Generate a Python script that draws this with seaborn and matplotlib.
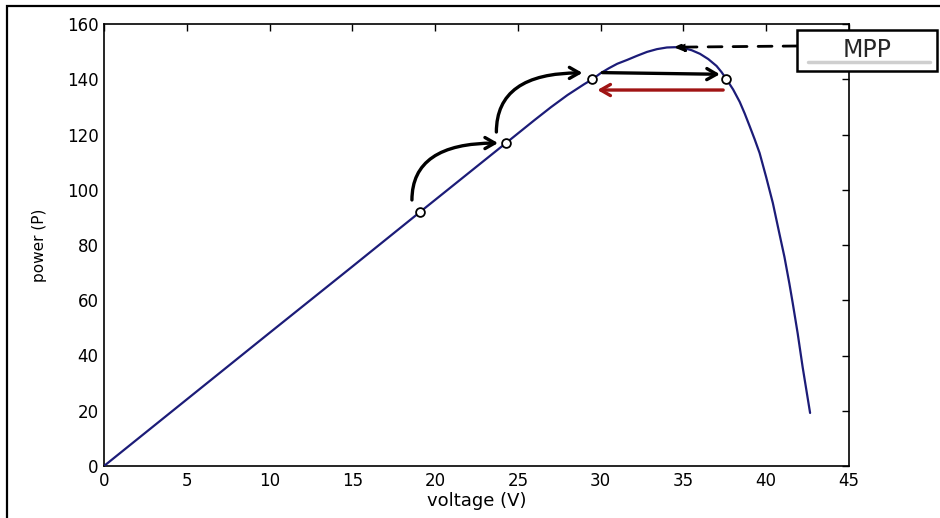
import matplotlib
matplotlib.use("Agg")
import matplotlib.pyplot as plt
from matplotlib.patches import FancyArrowPatch, Rectangle
from matplotlib.lines import Line2D
import seaborn as sns
import pandas as pd

# P-V characteristic of the PV panel
voltage = [0, 5, 10, 15, 19.1, 24.3, 26.0, 27.0, 28.0, 29.0, 29.5, 30.0, 30.5,
           31.0, 31.6, 32.2, 32.8, 33.4, 34.0, 34.5, 35.0, 35.5, 36.0, 36.5,
           37.0, 37.3, 37.6, 38.0, 38.4, 38.7, 39.0, 39.3, 39.6, 40.0, 40.4,
           40.8, 41.1, 41.4, 41.6, 41.9, 42.2, 42.65]
power = [0, 24.1, 48.2, 72.2, 92.0, 117.0, 125.2, 129.9, 134.3, 138.2, 140.0,
         142.2, 144.0, 145.6, 147.0, 148.5, 149.9, 150.9, 151.5, 151.6, 151.3,
         150.5, 149.2, 147.3, 144.8, 142.6, 140.0, 136.3, 131.8, 127.6, 123.0,
         118.3, 113.3, 104.5, 95.2, 84.0, 75.7, 66.0, 59.0, 48.0, 35.8, 19.2]

# operating points visited by the P&O tracker
track_v = [19.1, 24.3, 29.5, 37.6]
track_p = [92.0, 117.0, 140.0, 140.0]

mpp_v, mpp_p = 34.4, 151.6

x_ticks = [0, 5, 10, 15, 20, 25, 30, 35, 40, 45]
y_ticks = [0, 20, 40, 60, 80, 100, 120, 140, 160]

curve = pd.DataFrame({"voltage": voltage, "power": power})
points = pd.DataFrame({"voltage": track_v, "power": track_p})

sns.set_style("white")
plt.rcParams["font.family"] = ["DejaVu Sans"]

W, H = 940, 518
fig = plt.figure(figsize=(W / 100, H / 100), dpi=100)
ax = fig.add_axes([104 / W, 1 - 466 / H, (849 - 104) / W, (466 - 24) / H])

sns.lineplot(data=curve, x="voltage", y="power", sort=False, ax=ax,
             color="#1c1c78", linewidth=1.6, zorder=3)
sns.scatterplot(data=points, x="voltage", y="power", ax=ax, marker="o", s=40,
                facecolor="white", edgecolor="black", linewidth=1.3, zorder=5)

ax.set_xlim(0, 45)
ax.set_ylim(0, 160)
ax.set_xticks(x_ticks)
ax.set_yticks(y_ticks)
ax.tick_params(direction="in", length=5, width=1, top=True, right=True,
               labelsize=12, colors="black", pad=4)
for s in ax.spines.values():
    s.set_visible(True)
    s.set_color("black")
    s.set_linewidth(1.2)
ax.set_xlabel("voltage (V)", fontsize=13, labelpad=2, color="black")
ax.set_ylabel("power (P)", fontsize=11, labelpad=14, color="black")

# curved step arrows along the rising side
def step_arrow(p0, p1):
    a = FancyArrowPatch(p0, p1, connectionstyle="angle3,angleA=90,angleB=0",
                        arrowstyle="->,head_length=7,head_width=4",
                        color="black", linewidth=2.4, zorder=6,
                        shrinkA=0, shrinkB=0)
    ax.add_patch(a)

step_arrow((18.6, 96.3), (23.8, 116.9))
step_arrow((23.7, 120.9), (28.9, 142.3))

# jump across the peak and the reverse step
ax.add_patch(FancyArrowPatch((30.1, 142.4), (37.2, 141.8),
                             arrowstyle="->,head_length=7,head_width=4",
                             color="black", linewidth=2.4, zorder=6,
                             shrinkA=0, shrinkB=0))
ax.add_patch(FancyArrowPatch((37.4, 136.1), (29.8, 136.1),
                             arrowstyle="->,head_length=7,head_width=4",
                             color="#a01414", linewidth=2.4, zorder=6,
                             shrinkA=0, shrinkB=0))

# MPP label box with dashed pointer
ax.annotate("", xy=(mpp_v, mpp_p), xycoords="data",
            xytext=(797 / W, 1 - 46 / H), textcoords="figure fraction",
            arrowprops=dict(arrowstyle="-|>,head_length=0.6,head_width=0.25",
                            color="black", linewidth=2, linestyle=(0, (5, 4)),
                            shrinkA=0, shrinkB=0),
            zorder=6)
box = Rectangle((797 / W, 1 - 71 / H), (937 - 797) / W, (71 - 30) / H,
                transform=fig.transFigure, facecolor="white",
                edgecolor="black", linewidth=1.8, zorder=10)
fig.patches.append(box)
fig.lines.append(Line2D([808 / W, 930 / W], [1 - 62 / H, 1 - 62 / H],
                        transform=fig.transFigure, color="#cfcfcf",
                        linewidth=2.5, zorder=11))
fig.text(867 / W, 1 - 50 / H, "MPP", ha="center", va="center", fontsize=17,
         family="DejaVu Sans", zorder=12)

# outer frame
frame = Rectangle((7 / W, -0.05), 1.2, 1 - 6 / H + 0.05,
                  transform=fig.transFigure, facecolor="none",
                  edgecolor="black", linewidth=1.6, zorder=0)
fig.patches.append(frame)

fig.savefig("out.png", dpi=100, facecolor="white")
